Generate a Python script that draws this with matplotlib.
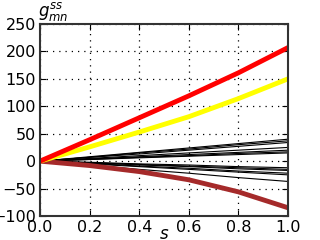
import matplotlib
matplotlib.use("Agg")
import matplotlib.pyplot as plt

s = [0.0, 0.2, 0.4, 0.6, 0.8, 1.0]

g_red = [0, 39, 79, 119, 161, 207]
g_yellow = [0, 26, 53, 81, 114, 150]
g_brown = [0, -8, -19, -34, -56, -85]

# thin black curves (value at s=0..1)
g_black = [
    [0, 8, 16, 24, 32, 40],
    [0, 7, 15, 22, 30, 37],
    [0, 7, 13, 20, 27, 34],
    [0, 5, 10, 15, 20, 25],
    [0, 4, 8, 12, 16, 20],
    [0, 3, 7, 10, 14, 17],
    [0, 3, 6, 9, 12, 15],
    [0, -2, -5, -7, -10, -12],
    [0, -3, -6, -9, -12, -15],
    [0, -3, -7, -10, -14, -17],
    [0, -4, -9, -13, -18, -22],
    [0, -5, -10, -15, -20, -25],
    [0, -7, -15, -22, -30, -37],
]

plt.rcParams['font.family'] = 'DejaVu Sans'
fig = plt.figure(figsize=(3.2, 2.4), dpi=100)
ax = fig.add_axes([40 / 320, 24 / 240, 248 / 320, 192 / 240])

for g in g_black:
    ax.plot(s, g, color='black', lw=0.8)
ax.plot(s, g_brown, color='#a52a2a', lw=3.5)
ax.plot(s, g_yellow, color='yellow', lw=3.5)
ax.plot(s, g_red, color='red', lw=3.5)

ax.set_xlim(0, 1)
ax.set_ylim(-100, 250)
ax.set_xticks([0.0, 0.2, 0.4, 0.6, 0.8, 1.0])
ax.set_yticks([-100, -50, 0, 50, 100, 150, 200, 250])
ax.grid(True, color='black', linestyle=(0, (1, 4)), lw=0.9)
ax.tick_params(direction='in', top=True, right=True, labelsize=11.5, length=4, pad=3)
for sp in ax.spines.values():
    sp.set_linewidth(1.5)
    sp.set_color('#333333')

ax.text(-0.01, 1.005, r'$g_{mn}^{ss}$', transform=ax.transAxes, fontsize=12,
        ha='left', va='bottom')
ax.text(0.5, -0.045, r'$s$', transform=ax.transAxes, fontsize=12,
        ha='center', va='top')

fig.savefig('out.png', dpi=100)
